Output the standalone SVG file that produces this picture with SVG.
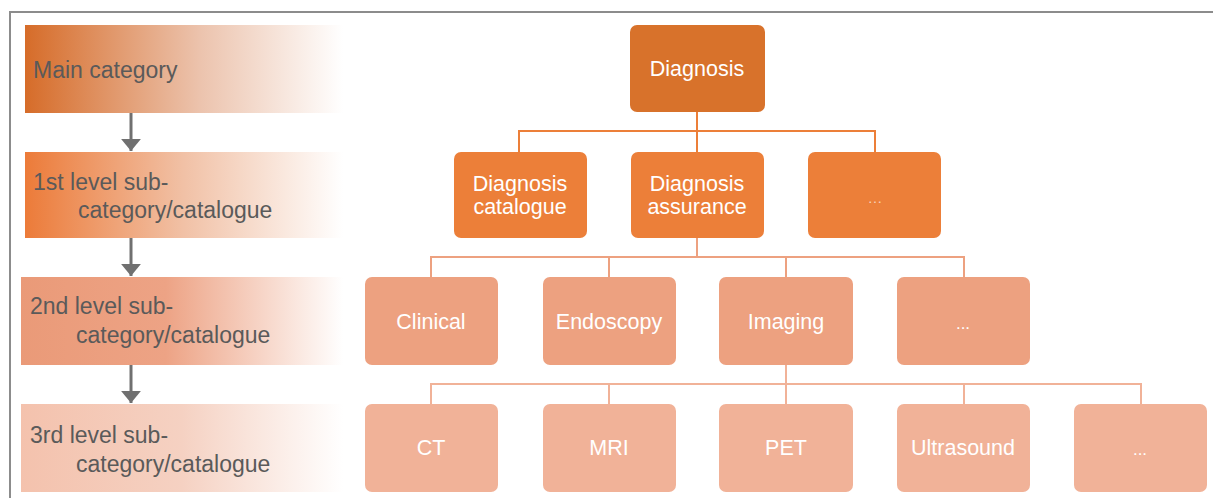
<svg xmlns="http://www.w3.org/2000/svg" width="1213" height="498" viewBox="0 0 1213 498">
  <style>
    .lbl { font-family: "Liberation Sans", Arial, sans-serif; font-size: 23px; fill: #5a5a5a; }
    .nt { font-family: "Liberation Sans", Arial, sans-serif; font-size: 21.5px; fill: #ffffff; text-anchor: middle; }
    .n0 { fill: #d8722b; }
    .n1 { fill: #ec7f39; }
    .n2 { fill: #eda180; }
    .n3 { fill: #f1b298; }
    .c1 { stroke: #ec7f39; stroke-width: 2; fill: none; }
    .c2 { stroke: #eda180; stroke-width: 2; fill: none; }
    .c3 { stroke: #f1b298; stroke-width: 2; fill: none; }
    .arr { stroke: #707070; stroke-width: 3; fill: none; }
  </style>
  <defs>
    <linearGradient id="g0" x1="0" y1="0" x2="1" y2="0">
      <stop offset="0" stop-color="#d66c29"/>
      <stop offset="0.55" stop-color="#ecc3ad"/>
      <stop offset="1" stop-color="#ffffff"/>
    </linearGradient>
    <linearGradient id="g1" x1="0" y1="0" x2="1" y2="0">
      <stop offset="0" stop-color="#ec7b39"/>
      <stop offset="0.5" stop-color="#f1c1a6"/>
      <stop offset="1" stop-color="#ffffff"/>
    </linearGradient>
    <linearGradient id="g2" x1="0" y1="0" x2="1" y2="0">
      <stop offset="0" stop-color="#ea9a78"/>
      <stop offset="0.45" stop-color="#eda385"/>
      <stop offset="1" stop-color="#ffffff"/>
    </linearGradient>
    <linearGradient id="g3" x1="0" y1="0" x2="1" y2="0">
      <stop offset="0" stop-color="#f4c2ad"/>
      <stop offset="0.5" stop-color="#f5d1c2"/>
      <stop offset="1" stop-color="#ffffff"/>
    </linearGradient>
    <marker id="ah" markerWidth="5" markerHeight="7" refX="4" refY="3.3" orient="auto" markerUnits="strokeWidth">
      <path d="M0,0 L4,3.3 L0,6.6 Z" fill="#707070"/>
    </marker>
  </defs>
  <rect width="1213" height="498" fill="#ffffff"/>
  <g id="frame">
    <path d="M10,498 V12 H1213" stroke="#8c8c8c" stroke-width="2" fill="none"/>
  </g>

  <g id="band-main">
    <rect x="25" y="25" width="318" height="88" fill="url(#g0)"/>
    <text class="lbl" x="33" y="78">Main category</text>
  </g>
  <g id="band-1">
    <rect x="25" y="152" width="318" height="86" fill="url(#g1)"/>
    <text class="lbl" x="33" y="190">1st level sub-</text>
    <text class="lbl" x="78" y="218">category/catalogue</text>
  </g>
  <g id="band-2">
    <rect x="21" y="277" width="322" height="88" fill="url(#g2)"/>
    <text class="lbl" x="30" y="314">2nd level sub-</text>
    <text class="lbl" x="76" y="343">category/catalogue</text>
  </g>
  <g id="band-3">
    <rect x="21" y="404" width="322" height="88" fill="url(#g3)"/>
    <text class="lbl" x="30" y="443">3rd level sub-</text>
    <text class="lbl" x="76" y="472">category/catalogue</text>
  </g>

  <g id="connectors">
    <line class="arr" x1="131" y1="113" x2="131" y2="151" marker-end="url(#ah)"/>
    <line class="arr" x1="131" y1="238" x2="131" y2="276" marker-end="url(#ah)"/>
    <line class="arr" x1="131" y1="365" x2="131" y2="403" marker-end="url(#ah)"/>
    <path class="c1" d="M697,111 V152 M519,152 V131 H875 V152"/>
    <path class="c2" d="M697,238 V257 M431,277 V257 H964 V277 M609,257 V277 M786,257 V277"/>
    <path class="c3" d="M786,365 V384 M431,404 V384 H1141 V404 M609,384 V404 M786,384 V404 M964,384 V404"/>
  </g>

  <g id="n-diagnosis">
    <rect class="n0" x="630" y="25" width="135" height="87" rx="7"/>
    <text class="nt" x="697" y="76">Diagnosis</text>
  </g>
  <g id="n-diag-catalogue">
    <rect class="n1" x="454" y="152" width="133" height="86" rx="7"/>
    <text class="nt" x="520" y="191">Diagnosis</text>
    <text class="nt" x="520" y="214">catalogue</text>
  </g>
  <g id="n-diag-assurance">
    <rect class="n1" x="631" y="152" width="133" height="86" rx="7"/>
    <text class="nt" x="697" y="191">Diagnosis</text>
    <text class="nt" x="697" y="214">assurance</text>
  </g>
  <g id="n-l1-more">
    <rect class="n1" x="808" y="152" width="133" height="86" rx="7"/>
    <text class="nt" x="875" y="203" style="font-size:15px;fill:#f6d2bb">…</text>
  </g>

  <g id="n-clinical">
    <rect class="n2" x="365" y="277" width="133" height="88" rx="7"/>
    <text class="nt" x="431" y="329">Clinical</text>
  </g>
  <g id="n-endoscopy">
    <rect class="n2" x="543" y="277" width="133" height="88" rx="7"/>
    <text class="nt" x="609" y="329">Endoscopy</text>
  </g>
  <g id="n-imaging">
    <rect class="n2" x="719" y="277" width="134" height="88" rx="7"/>
    <text class="nt" x="786" y="329">Imaging</text>
  </g>
  <g id="n-l2-more">
    <rect class="n2" x="897" y="277" width="133" height="88" rx="7"/>
    <text class="nt" x="963" y="329" style="font-size:17px">...</text>
  </g>

  <g id="n-ct">
    <rect class="n3" x="365" y="404" width="133" height="88" rx="7"/>
    <text class="nt" x="431" y="455">CT</text>
  </g>
  <g id="n-mri">
    <rect class="n3" x="543" y="404" width="133" height="88" rx="7"/>
    <text class="nt" x="609" y="455">MRI</text>
  </g>
  <g id="n-pet">
    <rect class="n3" x="719" y="404" width="134" height="88" rx="7"/>
    <text class="nt" x="786" y="455">PET</text>
  </g>
  <g id="n-ultrasound">
    <rect class="n3" x="897" y="404" width="133" height="88" rx="7"/>
    <text class="nt" x="963" y="455">Ultrasound</text>
  </g>
  <g id="n-l3-more">
    <rect class="n3" x="1074" y="404" width="133" height="88" rx="7"/>
    <text class="nt" x="1140" y="455" style="font-size:17px">...</text>
  </g>
</svg>
